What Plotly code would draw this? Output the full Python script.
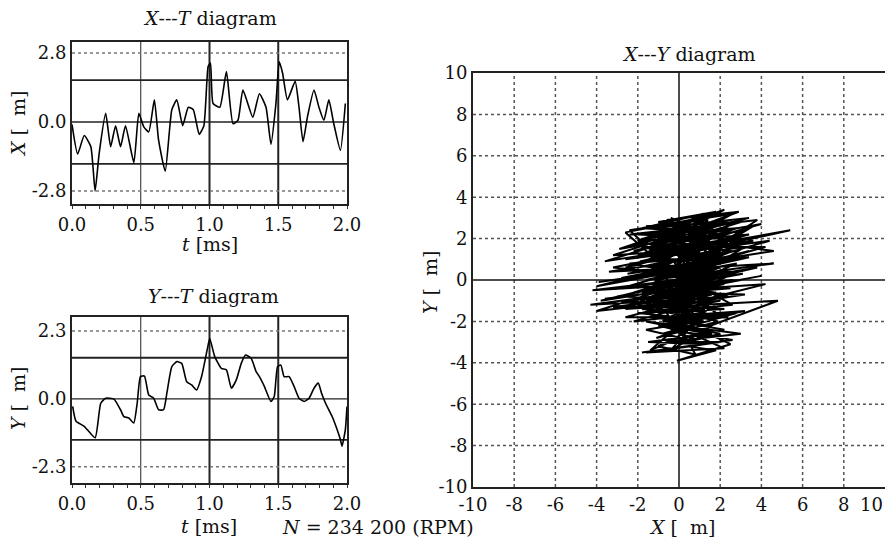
import plotly.graph_objects as go

W, H = 893, 547
OFF = 8  # default page margin around the plot div
FW, FH = W - 2 * OFF, H - 2 * OFF
FONT = "DejaVu Serif"

# ---------------- data ----------------
xt_t = [0.0, 0.041, 0.089, 0.137, 0.168, 0.197, 0.245, 0.281, 0.317, 0.353, 0.389, 0.45,
        0.486, 0.522, 0.558, 0.599, 0.63, 0.678, 0.726, 0.762, 0.805, 0.846, 0.882, 0.925,
        0.959, 0.99, 1.007, 1.026, 1.075, 1.123, 1.171, 1.207, 1.243, 1.315, 1.363, 1.411,
        1.447, 1.483, 1.507, 1.531, 1.567, 1.623, 1.651, 1.68, 1.712, 1.76, 1.796, 1.832,
        1.868, 1.904, 1.952, 1.988]
xt_x = [-0.1, -1.3, -0.55, -1.0, -2.8, -1.3, 0.35, -1.0, -0.15, -1.0, -0.15, -1.65,
        0.35, -0.2, -0.4, 0.9, -0.75, -2.0, 0.5, 0.9, -0.15, 0.6, 0.5, -0.5,
        -0.15, 2.25, 2.4, 0.75, 0.6, 2.05, -0.07, 0.07, 1.3, 0.2, 1.15, 0.6,
        -0.9, 0.75, 2.45, 2.0, 0.9, 1.65, 0.6, -0.8, 0.2, 1.3, 0.6, 0.07,
        0.9, -0.07, -1.15, 0.75]

yt_t = [0.005, 0.029, 0.089, 0.168, 0.209, 0.245, 0.305, 0.353, 0.377, 0.413, 0.449, 0.474,
        0.498, 0.527, 0.558, 0.594, 0.63, 0.666, 0.69, 0.726, 0.762, 0.798, 0.834, 0.87,
        0.906, 0.942, 0.99, 1.002, 1.038, 1.086, 1.123, 1.159, 1.195, 1.231, 1.262, 1.303,
        1.339, 1.363, 1.399, 1.447, 1.471, 1.495, 1.519, 1.543, 1.579, 1.615, 1.651, 1.688,
        1.724, 1.76, 1.791, 1.815, 1.844, 1.892, 1.928, 1.952, 1.964, 1.988, 2.0]
yt_y = [-0.26, -0.76, -0.93, -1.32, -0.15, 0.02, -0.01, -0.37, -0.6, -0.65, -0.82, -0.15,
        0.75, 0.77, 0.13, 0.02, -0.37, -0.37, 0.19, 1.09, 1.26, 1.2, 0.58, 0.47,
        0.30, 0.75, 1.82, 2.04, 1.43, 1.03, 0.98, 0.36, 0.64, 1.2, 1.48, 1.37,
        0.92, 0.75, 0.42, -0.09, 0.08, 1.09, 1.14, 0.75, 0.75, 0.42, 0.02, -0.09,
        0.02, 0.36, 0.53, 0.19, -0.15, -0.6, -1.04, -1.38, -1.6, -1.04, -0.26]

xy_path = [
    (0.0, 0.0), (-2.6, 2.3), (1.6, 3.1), (-1.2, 2.5), (3.4, 3.0), (-0.4, 2.0), (2.2, 3.4),
    (-2.0, 1.9), (1.0, 2.8), (-2.9, 1.5), (4.0, 2.7), (0.4, 1.7), (-1.6, 2.2), (2.8, 2.5),
    (-0.9, 1.3), (5.4, 2.4), (1.2, 1.5), (-3.2, 1.2), (0.6, 2.4), (3.6, 1.9), (-1.9, 0.9),
    (2.1, 1.8), (-3.6, 0.9), (0.0, 2.0), (4.6, 1.4), (-1.3, 0.5), (2.7, 1.2), (-2.5, 0.3),
    (1.6, 0.9), (3.0, 2.1), (0.3, 0.5), (-3.9, -0.1), (1.3, 0.6), (4.6, 0.8), (-0.6, 0.1),
    (2.3, 0.4), (-2.1, -0.3), (3.1, 0.3), (-0.2, -0.3), (3.8, 0.6), (0.8, 0.1), (-4.2, -0.5),
    (0.7, -0.2), (2.5, -0.4), (-1.2, -0.7), (1.9, 0.2), (-3.0, -0.8), (1.0, -0.9), (-4.3, -1.2),
    (0.2, -0.6), (3.2, -0.7), (-0.8, -1.3), (4.8, -1.0), (1.0, -2.4), (-1.4, -1.6), (2.0, -1.0),
    (-2.6, -1.4), (0.6, -1.2), (-2.2, -2.0), (0.4, -1.7), (3.2, -1.5), (-0.6, -2.2), (1.6, -2.6),
    (-1.5, -3.0), (1.3, -3.1), (-0.4, -2.4), (2.6, -2.9), (-1.8, -3.5), (0.4, -3.2), (1.8, -3.4),
    (-0.1, -3.9), (2.5, -3.1), (0.6, -2.2), (-1.1, -2.8), (1.9, -2.0), (-0.3, -1.5), (2.6, -1.2),
    (-1.0, 0.8), (2.4, 2.6), (-2.2, 1.4), (1.4, 2.1), (-0.6, 2.9), (2.9, 3.3), (0.2, 2.3),
    (-2.4, 2.2), (3.8, 2.9), (1.0, 1.1), (-1.8, 1.6), (4.2, 1.6), (0.6, 0.6), (-3.4, 0.4),
    (2.2, 1.3), (-0.2, 0.9), (3.4, 1.1), (-1.6, 0.0), (2.8, 0.8), (-0.4, -0.6), (4.0, 0.2),
    (0.8, -0.4), (-3.6, -0.9), (1.4, -0.3), (-1.0, -0.2), (3.0, 0.0), (-2.8, -1.1), (0.4, -1.0),
    (-4.0, -1.5), (-0.8, -0.5), (2.2, -0.2), (-1.6, -1.0), (1.2, -1.4), (-2.0, -1.6), (0.0, -1.8),
    (2.8, -1.6), (-0.8, -2.6), (1.0, -3.0), (-1.6, -2.4), (0.8, -2.0), (-0.4, -3.4), (1.6, -2.2),
    (-1.2, -1.8), (2.2, -2.4), (0.0, -2.8), (-1.4, -3.4), (0.2, -2.0), (1.2, -1.0), (-0.4, 0.6),
    (1.8, 1.0), (-1.2, 1.4), (2.6, 2.0), (-0.2, 1.4), (1.4, 2.9), (-1.6, 2.6), (2.0, 2.2),
    (-0.8, 1.8), (3.2, 2.4), (0.0, 1.0), (-2.4, 0.8), (1.0, 0.2), (-1.2, -0.4), (1.8, -0.6),
    (-0.6, -1.0), (2.4, -0.8), (0.2, -0.2), (-2.2, -0.6), (1.2, 0.4), (3.2, 1.6), (0.4, 1.2),
    (-1.4, 2.0), (0.8, 3.0), (-0.2, 2.6), (1.8, 2.8), (0.2, 0.0),
    (-2.4, 2.4), (2.6, 3.2), (-1.4, 1.1), (3.6, 2.6), (-0.2, 0.3), (-3.2, 0.6), (1.8, 1.6),
    (-2.6, 1.0), (4.4, 1.9), (0.6, 0.8), (-4.0, -0.3), (2.0, 0.8), (-1.0, 0.3), (3.4, 1.4),
    (-2.8, -0.4), (1.6, 0.3), (-3.8, -1.0), (2.6, 0.0), (-1.8, -0.6), (4.2, -0.2), (0.2, -1.2),
    (-3.2, -1.3), (1.6, -0.7), (-2.6, -1.8), (2.4, -1.8), (-0.8, -1.9), (1.4, -2.6), (-1.6, -2.0),
    (3.0, -2.6), (-0.6, -3.0), (2.0, -3.0), (-1.6, -3.5), (2.2, -3.3), (0.6, -2.6), (-1.0, -2.2),
    (1.0, -1.8), (-0.2, -2.4), (1.8, -1.2), (-0.6, -0.8), (2.6, 0.4), (-1.8, 0.4), (3.0, 1.0),
    (-1.0, 1.0), (2.2, 2.0), (-2.0, 2.2), (0.8, 2.2), (-1.0, 2.8), (1.8, 3.3), (-0.4, 2.4),
    (2.4, 2.8), (-2.2, 1.7), (3.4, 2.2), (-0.6, 1.2), (1.6, 1.3), (-1.4, 0.7), (2.0, 0.6),
    (-0.6, -0.2), (1.0, -0.6), (-2.4, -1.0), (0.8, -1.5), (-1.8, -1.4), (1.6, -1.7), (-0.4, -1.2),
    (2.2, -1.4), (-1.0, -1.6), (0.6, 0.4), (-0.4, 1.6), (2.2, 1.0), (0.0, 0.4),
    (-1.5, 1.2), (1.5, 1.9), (-0.8, 0.2), (2.8, 1.6), (-2.0, 0.6), (1.2, 1.2), (-0.4, -0.2),
    (2.0, 1.4), (-1.2, 0.0), (1.6, 0.6), (-2.2, -1.2), (0.6, -0.6), (-1.6, -0.4), (2.4, 0.2),
    (-0.2, -1.0), (1.4, 1.6), (-2.6, 0.6), (0.8, 1.8), (-1.0, 2.2), (2.6, 2.8), (0.0, 2.4),
    (-1.8, 2.5), (1.2, 3.2), (-0.8, 2.2), (3.0, 2.8), (0.4, 2.0), (-2.0, 1.2), (1.8, 2.4),
    (-0.2, 1.8), (2.2, 1.6), (-1.2, 0.6), (0.8, 0.8), (-2.8, 0.1), (1.8, 0.4), (-0.8, -0.8),
    (2.0, -0.4), (-1.4, -1.2), (0.0, -1.4), (-2.0, -1.2), (1.2, -2.0), (-0.8, -2.0), (1.4, -1.2),
    (0.2, -2.6), (-1.0, -3.2), (0.8, -3.6), (0.0, -2.2), (2.0, -2.6), (0.4, -3.0), (-0.6, -1.6),
    (1.4, -0.4), (-0.8, 0.6), (1.0, 1.6), (-1.6, 1.8), (0.2, 1.2), (-0.6, 0.0), (0.6, -0.8),
    (-1.4, -0.2), (2.6, 1.4), (0.6, 1.0), (-0.4, 0.2), (1.6, -0.2), (-1.0, -1.2), (0.8, -1.0),
    (-0.4, -1.8), (1.8, -1.6), (0.4, -0.4), (-0.2, 0.8), (1.0, 2.4), (-0.4, 3.0), (0.6, 2.6),
    (-1.2, 1.6), (0.0, 0.0),
]
xy_x = [p[0] for p in xy_path]
xy_y = [p[1] for p in xy_path]

t_ticks = [0.0, 0.5, 1.0, 1.5, 2.0]
t_ticktext = ["0.0", "0.5", "1.0", "1.5", "2.0"]
xt_ticks = [-2.8, 0.0, 2.8]
xt_ticktext = ["-2.8", "0.0", "2.8"]
yt_ticks = [-2.3, 0.0, 2.3]
yt_ticktext = ["-2.3", "0.0", "2.3"]
xy_ticks = [-10, -8, -6, -4, -2, 0, 2, 4, 6, 8, 10]
xy_ticktext = ["-10", "-8", "-6", "-4", "-2", "0", "2", "4", "6", "8", "10"]

xt_solid_h = [-1.7, 0.0, 1.7]
yt_solid_h = [-1.39, 0.0, 1.39]
t_vlines = [0.5, 1.0, 1.5]
t_vwidth = [1.0, 2.0, 2.0]
xy_dotted = [-8, -6, -4, -2, 2, 4, 6, 8]

# ---------------- figure ----------------
fig = go.Figure()
fig.add_trace(go.Scatter(x=xt_t, y=xt_x, mode="lines",
                         line=dict(color="black", width=1.6, shape="spline", smoothing=0.5),
                         xaxis="x", yaxis="y", showlegend=False))
fig.add_trace(go.Scatter(x=yt_t, y=yt_y, mode="lines",
                         line=dict(color="black", width=1.6, shape="spline", smoothing=0.5),
                         xaxis="x2", yaxis="y2", showlegend=False))
fig.add_trace(go.Scatter(x=xy_x, y=xy_y, mode="lines", line=dict(color="black", width=2.0),
                         xaxis="x3", yaxis="y3", showlegend=False))


def px_x(a, b):
    return [(a - OFF) / FW, (b - OFF) / FW]


def px_y(top, bottom):
    return [1 - (bottom - OFF) / FH, 1 - (top - OFF) / FH]


tickfont = dict(family=FONT, size=18, color="#111")
axcommon = dict(showline=True, linecolor="#222", linewidth=2, mirror=True, showgrid=False,
                zeroline=False, ticks="", tickfont=tickfont, automargin=False, tickmode="array",
                ticklabeloverflow="allow")

shapes = []
for xa, ya, solid, dotted in [("x", "y", xt_solid_h, xt_ticks), ("x2", "y2", yt_solid_h, yt_ticks)]:
    for v in solid:
        shapes.append(dict(type="line", xref=xa, yref=ya, x0=0, x1=2, y0=v, y1=v,
                           line=dict(color="#222", width=1.8 if v != 0 else 1.3), layer="below"))
    for v in dotted:
        if v == 0:
            continue
        shapes.append(dict(type="line", xref=xa, yref=ya, x0=0, x1=2, y0=v, y1=v,
                           line=dict(color="#777", width=1.5, dash="dot"), layer="below"))
    for v, w in zip(t_vlines, t_vwidth):
        shapes.append(dict(type="line", xref=xa, yref=ya + " domain", x0=v, x1=v, y0=0, y1=1,
                           line=dict(color="#222", width=w), layer="below"))
for v in xy_dotted:
    shapes.append(dict(type="line", xref="x3", yref="y3", x0=v, x1=v, y0=-10, y1=10,
                       line=dict(color="#555", width=1.5, dash="dot"), layer="below"))
    shapes.append(dict(type="line", xref="x3", yref="y3", x0=-10, x1=10, y0=v, y1=v,
                       line=dict(color="#555", width=1.5, dash="dot"), layer="below"))
shapes.append(dict(type="line", xref="x3", yref="y3", x0=0, x1=0, y0=-10, y1=10,
                   line=dict(color="#111", width=1.5), layer="below"))
shapes.append(dict(type="line", xref="x3", yref="y3", x0=-10, x1=10, y0=0, y1=0,
                   line=dict(color="#111", width=1.5), layer="below"))

t_axis = {**axcommon, "ticks": "outside", "ticklen": 3, "tickwidth": 1.3, "tickcolor": "#333"}
minor_t = dict(ticks="outside", dtick=0.1, tick0=0, ticklen=3, tickcolor="#333", tickwidth=1.3)

# last x tick label of the X-Y plot sits at the page edge: drawn as a right-aligned annotation
xy_xtext = xy_ticktext[:-1] + [""]

fig.update_layout(
    width=FW, height=FH, margin=dict(l=0, r=0, t=0, b=0),
    paper_bgcolor="white", plot_bgcolor="white",
    font=dict(family=FONT, color="#111"),
    xaxis=dict(domain=px_x(72, 347), range=[0, 2], anchor="y", tickvals=t_ticks, ticktext=t_ticktext,
               minor=minor_t, **t_axis),
    yaxis=dict(domain=px_y(42, 204), range=[-3.33, 3.25], anchor="x", tickvals=xt_ticks,
               ticktext=xt_ticktext, **axcommon),
    xaxis2=dict(domain=px_x(72, 347), range=[0, 2], anchor="y2", tickvals=t_ticks, ticktext=t_ticktext,
                minor=minor_t, **t_axis),
    yaxis2=dict(domain=px_y(317, 483), range=[-2.85, 2.77], anchor="x2", tickvals=yt_ticks,
                ticktext=yt_ticktext, **axcommon),
    xaxis3=dict(domain=px_x(473, 885), range=[-10, 10], anchor="y3", tickvals=xy_ticks,
                ticktext=xy_xtext, **{**axcommon, "linewidth": 1.8}),
    yaxis3=dict(domain=px_y(73, 487), range=[-10, 10], anchor="x3", tickvals=xy_ticks,
                ticktext=xy_ticktext, **{**axcommon, "linewidth": 1.8}),
    shapes=shapes,
)

tf = dict(family=FONT, size=19, color="#111")
ann = [
    ("<i>X</i>---<i>T</i> diagram", 210, 18, 0),
    ("<i>t</i> [ms]", 210, 244, 0),
    ("<i>X</i> [  m]", 18, 124, -90),
    ("<i>Y</i>---<i>T</i> diagram", 213, 296, 0),
    ("<i>t</i> [ms]", 209, 526, 0),
    ("<i>Y</i> [  m]", 18, 398, -90),
    ("<i>N</i> = 234 200 (RPM)", 378, 527, 0),
    ("<i>X</i>---<i>Y</i> diagram", 689, 54, 0),
    ("<i>X</i> [  m]", 682, 527, 0),
    ("<i>Y</i> [  m]", 430, 282, -90),
]
annotations = [
    dict(text=t, x=(x - OFF) / FW, y=1 - (y - OFF) / FH, xref="paper", yref="paper", showarrow=False,
         xanchor="center", yanchor="middle", textangle=a, font=tf)
    for t, x, y, a in ann
]
annotations.append(dict(text=xy_ticktext[-1], x=1, xref="paper", y=0, yref="y3 domain",
                        yshift=-5, showarrow=False, xanchor="right", yanchor="top",
                        font=tickfont))
fig.update_layout(annotations=annotations)

fig.write_html("out.html")
